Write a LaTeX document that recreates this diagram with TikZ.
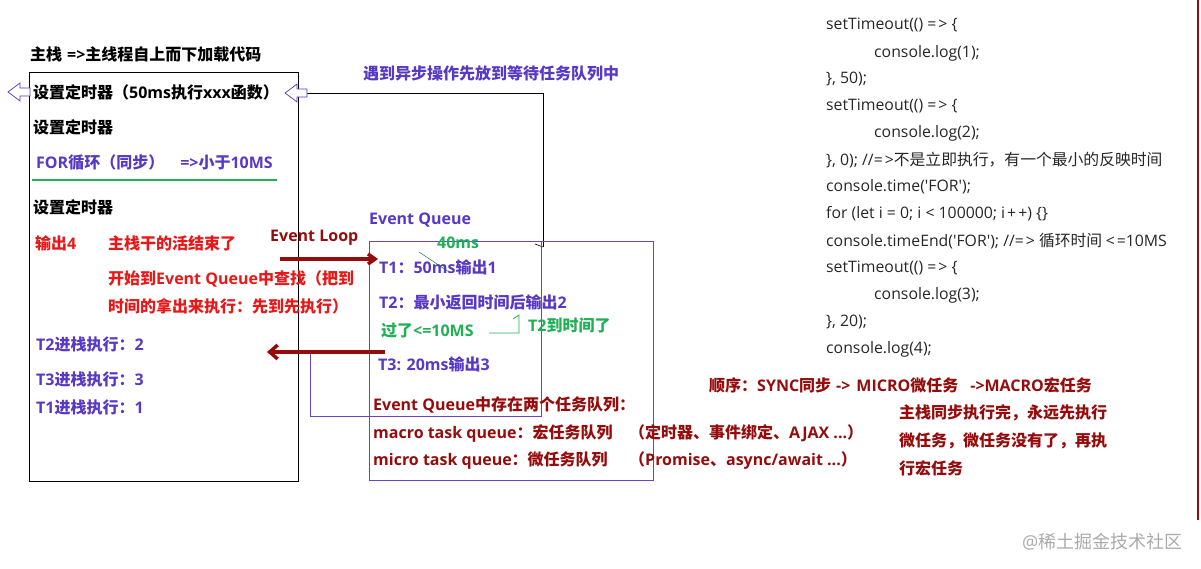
\documentclass[tikz,border=0pt]{standalone}
\usepackage{fontspec}
\setmainfont{Open Sans}
\newfontfamily\latf{Open Sans}
\newfontfamily\cjkf{Noto Sans CJK SC}
\XeTeXinterchartokenstate=1
\newXeTeXintercharclass\cjkclass
\makeatletter
\count@="3000
\loop\ifnum\count@<"3040 \XeTeXcharclass\count@=\cjkclass \advance\count@ 1 \repeat
\count@="4E00
\loop\ifnum\count@<"A000 \XeTeXcharclass\count@=\cjkclass \advance\count@ 1 \repeat
\count@="FF00
\loop\ifnum\count@<"FFF0 \XeTeXcharclass\count@=\cjkclass \advance\count@ 1 \repeat
\makeatother
\XeTeXinterchartoks 0 \cjkclass = {\cjkf}
\XeTeXinterchartoks 4095 \cjkclass = {\cjkf}
\XeTeXinterchartoks \cjkclass 0 = {\latf}
\XeTeXinterchartoks 4095 0 = {\latf}
\usetikzlibrary{arrows.meta}
\definecolor{cpurple}{RGB}{88,56,196}
\definecolor{cred}{RGB}{232,24,24}
\definecolor{cdred}{RGB}{150,12,12}
\definecolor{cgreen}{RGB}{30,176,84}
\definecolor{cbox}{RGB}{100,70,200}
\definecolor{cgray}{RGB}{170,170,170}
\tikzset{
  lbl/.style={anchor=west, inner sep=0pt, font=\fontsize{16}{18}\selectfont\bfseries},
  code/.style={anchor=west, inner sep=0pt, font=\fontsize{15.8}{18}\selectfont, text=black!85},
  hollow/.style={draw=cpurple, fill=white, line width=0.7pt},
}
\newcommand{\gt}{=\hspace{2pt}>}
\begin{document}
\begin{tikzpicture}[x=1pt,y=-1pt]
\useasboundingbox (0,0) rectangle (1201,569);
% main stack box
\node[lbl] (title) at (30,54) {主栈\hspace{5pt}=>主线程自上而下加载代码};
\draw[black, line width=0.9pt] (29,72) rectangle (298,481);
\node[lbl] (s1) at (33,92) {设置定时器（50ms执行xxx函数）};
\node[lbl] (s2) at (33,127) {设置定时器};
\node[lbl, text=cpurple] (s3) at (36,163) {FOR循环（同步）\hspace{16pt}=>小于10MS};
\draw[cgreen, line width=1.5pt] (32,180) -- (277,180);
\node[lbl] (s4) at (33,207) {设置定时器};
\node[lbl, text=cred] (s5) at (35,243) {输出4};
\node[lbl, text=cred] (s6) at (108,243) {主栈干的活结束了};
\node[lbl, text=cred] (s7) at (108,279) {开始到Event Queue中查找（把到};
\node[lbl, text=cred] (s8) at (108,306) {时间的拿出来执行：先到先执行）};
\node[lbl, text=cpurple] (s9) at (36,344) {T2进栈执行：2};
\node[lbl, text=cpurple] (s10) at (36,379) {T3进栈执行：3};
\node[lbl, text=cpurple] (s11) at (36,407) {T1进栈执行：1};
% connector from event queue back to stack
\coordinate (c1) at (543,247);
\coordinate (c2) at (543,93);
\draw[black, line width=0.8pt] (c1) -- (c2) -- (307,93);
\draw[black, line width=0.6pt] (535,244) -- (543,247);
% hollow arrows
\draw[hollow] (8,92) -- (20,83) -- (20,88) -- (30,88) -- (30,96) -- (20,96) -- (20,101) -- cycle;
\draw[hollow] (285,93) -- (297,84) -- (297,89) -- (307,89) -- (307,97) -- (297,97) -- (297,102) -- cycle;
\node[lbl, text=cpurple] (async) at (363,73) {遇到异步操作先放到等待任务队列中};
% event queue box
\node[lbl, text=cpurple] (eqt) at (369,220) {Event Queue};
\draw[cbox, line width=0.8pt] (369,241) rectangle (653,480);
\draw[cbox, line width=0.8pt] (310,350) -- (310,416) -- (541,416) -- (541,241);
\node[lbl, text=cdred] (loop) at (270,238) {Event Loop};
\coordinate (la) at (280,259);
\coordinate (lb) at (378,259);
\draw[cdred, line width=3.5pt, -{Straight Barb[length=7pt,width=10pt]}] (la) -- (lb);
\node[lbl, text=cgreen] (ms40) at (437,243) {40ms};
\node[lbl, text=cpurple] (t1) at (379,267) {T1：50ms输出1};
\draw[cgreen!70!black, line width=0.5pt] (419,252) -- (449,272);
\node[lbl, text=cpurple] (t2) at (379,302) {T2：最小返回时间后输出2};
\node[lbl, text=cgreen] (t2b) at (381,331) {过了<=10MS};
\draw[cgreen, line width=0.8pt] (489,333) -- (519,333) -- (519,315) -- (513,319);
\node[lbl, text=cgreen] (t2c) at (528,325) {T2到时间了};
\node[lbl, text=cpurple] (t3) at (378,364) {T3: 20ms输出3};
\coordinate (ra) at (385,352);
\coordinate (rb) at (267,352);
\draw[cdred, line width=3.5pt, -{Straight Barb[length=8pt,width=14pt]}] (ra) -- (rb);
\node[lbl, text=cdred] (q1) at (373,405) {Event Queue中存在两个任务队列：};
\node[lbl, text=cdred] (q2) at (373,433) {\makebox[256pt][l]{macro task queue：宏任务队列}（定时器、事件绑定、AJAX ...）};
\node[lbl, text=cdred] (q3) at (373,461) {\makebox[256pt][l]{micro task queue：微任务队列}（Promise、async/await ...）};
% order text
\node[lbl, text=cdred] (o1) at (709,385) {顺序：SYNC同步\hspace{5pt}->\hspace{6pt}MICRO微任务\hspace{12pt}->MACRO宏任务};
\node[lbl, text=cdred] (o2) at (899,413) {主栈同步执行完，永远先执行};
\node[lbl, text=cdred] (o3) at (899,441) {微任务，微任务没有了，再执};
\node[lbl, text=cdred] (o4) at (899,468) {行宏任务};
% code
\node[code] (k1) at (826,25) {setTimeout(() \gt{} \{};
\node[code] (k2) at (874,53) {console.log(1);};
\node[code] (k3) at (826,79) {\}, 50);};
\node[code] (k4) at (826,106) {setTimeout(() \gt{} \{};
\node[code] (k5) at (874,133) {console.log(2);};
\node[code] (k6) at (826,160) {\}, 0); //\gt{}不是立即执行，有一个最小的反映时间};
\node[code] (k7) at (826,187) {console.time(\textquotesingle FOR\textquotesingle);};
\node[code] (k8) at (826,214) {for (let i = 0; i < 100000; i\hspace{2pt}+\hspace{2pt}+) \{\}};
\node[code] (k9) at (826,241) {console.timeEnd(\textquotesingle FOR\textquotesingle); //\gt{} 循环时间 <\hspace{2pt}=10MS};
\node[code] (k10) at (826,268) {setTimeout(() \gt{} \{};
\node[code] (k11) at (874,295) {console.log(3);};
\node[code] (k12) at (826,322) {\}, 20);};
\node[code] (k13) at (826,349) {console.log(4);};
\draw[cdred, line width=2pt] (1198,0) -- (1198,520);
\node[anchor=west, inner sep=0pt, font=\fontsize{18}{20}\selectfont, text=cgray] (wm) at (1022,542) {@稀土掘金技术社区};
\end{tikzpicture}
\end{document}
